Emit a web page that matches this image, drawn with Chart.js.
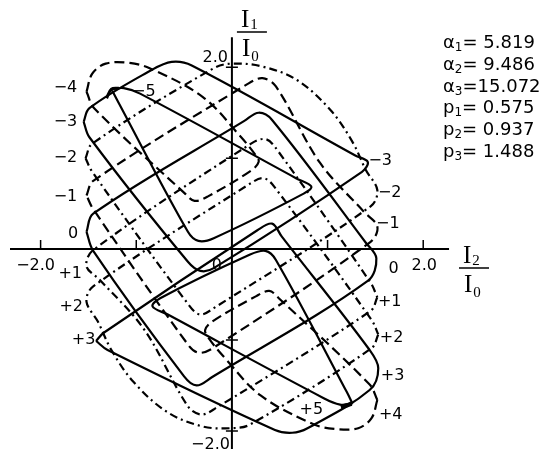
<!DOCTYPE html>
<html>
<head>
<meta charset="utf-8">
<script src="https://cdn.jsdelivr.net/npm/chart.js@4.4.0/dist/chart.umd.min.js"></script>
<style>
  html, body { margin: 0; padding: 0; background: #fff; }
</style>
</head>
<body>
<canvas id="grafico" width="545" height="456"></canvas>
<script>
// closed orbits n = -5 .. +5, points in units of I/I0 (x = I2/I0, y = I1/I0)
const orbitM5 = [[-1.26,1.76],[-1.13,1.77],[-0.96,1.71],[0.67,0.78],[0.83,0.69],[0.75,0.61],[-0.19,0.12],[-0.35,0.09],[-0.46,0.19],[-1.20,1.64],[-1.26,1.76]]
const orbitM4 = [[-1.52,1.73],[-1.46,1.93],[-1.32,2.04],[-1.09,2.05],[-0.86,1.99],[-0.30,1.67],[0.08,1.25],[0.25,1.03],[0.28,0.96],[0.21,0.87],[-0.25,0.58],[-0.39,0.53],[-0.49,0.61],[-1.44,1.55],[-1.52,1.73]]
const orbitM3 = [[-1.55,1.40],[-1.49,1.55],[-0.84,1.97],[-0.63,2.06],[-0.42,2.02],[1.29,1.03],[1.42,0.96],[1.36,0.85],[-0.19,-0.21],[-0.33,-0.24],[-0.46,-0.14],[-1.49,1.23],[-1.55,1.40]]
const orbitM2 = [[-1.53,1.00],[-1.46,1.16],[-0.19,1.99],[0.00,2.04],[0.31,2.01],[0.68,1.86],[1.03,1.53],[1.26,1.18],[1.40,0.87],[1.52,0.65],[1.45,0.47],[-0.19,-0.65],[-0.33,-0.72],[-0.44,-0.63],[-1.46,0.85],[-1.53,1.00]]
const orbitM1 = [[-1.52,0.59],[-1.45,0.75],[0.17,1.82],[0.32,1.88],[0.46,1.79],[0.92,0.95],[1.38,0.41],[1.52,0.25],[1.45,0.08],[-0.20,-1.09],[-0.35,-1.14],[-0.46,-1.05],[-1.45,0.44],[-1.52,0.59]]
const orbit0 = [[-1.52,0.19],[-1.45,0.39],[0.13,1.41],[0.28,1.50],[0.42,1.42],[1.40,0.07],[1.51,-0.10],[1.42,-0.35],[-0.21,-1.41],[-0.37,-1.50],[-0.50,-1.40],[-1.45,-0.02],[-1.52,0.19]]
const orbitP1 = [[1.52,-0.53],[1.45,-0.68],[-0.17,-1.75],[-0.32,-1.82],[-0.46,-1.73],[-0.92,-0.88],[-1.38,-0.34],[-1.52,-0.19],[-1.45,-0.01],[0.20,1.16],[0.35,1.21],[0.46,1.11],[1.45,-0.37],[1.52,-0.53]]
const orbitP2 = [[1.53,-0.94],[1.46,-1.09],[0.19,-1.93],[0.00,-1.97],[-0.31,-1.95],[-0.68,-1.79],[-1.03,-1.46],[-1.26,-1.11],[-1.40,-0.80],[-1.52,-0.58],[-1.45,-0.41],[0.19,0.72],[0.33,0.78],[0.44,0.69],[1.46,-0.78],[1.53,-0.94]]
const orbitP3 = [[-1.42,-1.01],[-1.34,-0.92],[0.27,0.21],[0.42,0.28],[0.52,0.14],[1.44,-1.11],[1.53,-1.31],[1.44,-1.55],[0.79,-1.97],[0.63,-2.02],[0.45,-1.99],[-1.30,-1.11],[-1.42,-1.01]]
const orbitP4 = [[1.52,-1.66],[1.46,-1.86],[1.32,-1.97],[1.09,-1.98],[0.86,-1.93],[0.30,-1.61],[-0.08,-1.19],[-0.25,-0.97],[-0.28,-0.89],[-0.21,-0.80],[0.25,-0.52],[0.39,-0.46],[0.49,-0.54],[1.44,-1.49],[1.52,-1.66]]
const orbitP5 = [[1.26,-1.70],[1.13,-1.71],[0.96,-1.64],[-0.67,-0.72],[-0.83,-0.63],[-0.75,-0.54],[0.19,-0.06],[0.35,-0.02],[0.46,-0.12],[1.20,-1.57],[1.26,-1.70]]
// small marks at the two end orbits
const puntoM5 = [[-1.31,1.66],[-1.26,1.76],[-1.18,1.77]]
const puntoP5 = [[1.14,-1.74],[1.20,-1.72],[1.25,-1.70]]

const ticksX = [-2, -1, 1, 2]
const ticksY = [-2, -1, 1, 2]
const etiquetasIzq = ['−4','−3','−2','−1','0','+1','+2','+3','−5']
const etiquetasDer = ['−3','−2','−1','0','+1','+2','+3','+4','+5']
const parametros = [['α','1','= 5.819'],['α','2','= 9.486'],['α','3','=15.072'],['p','1','= 0.575'],['p','2','= 0.937'],['p','3','= 1.488']]

// where the orbit numbers sit (I2/I0, I1/I0)
const sitioIzq = [[-1.74,1.77],[-1.74,1.40],[-1.74,1.00],[-1.74,0.58],[-1.66,0.17],[-1.69,-0.27],[-1.68,-0.63],[-1.55,-1.00],[-0.92,1.73]]
const sitioDer = [[1.55,0.97],[1.65,0.62],[1.63,0.28],[1.69,-0.22],[1.65,-0.58],[1.67,-0.98],[1.68,-1.39],[1.66,-1.82],[0.83,-1.77]]

const continua = []
const rayas = [10, 5]
const rayaPunto = [8, 4, 2, 4]

function serie(puntos, estilo, ancho) {
  return {
    data: puntos.map(p => ({x: p[0], y: p[1]})),
    showLine: true,
    borderColor: '#000',
    borderWidth: ancho || 2.2,
    borderDash: estilo,
    pointRadius: 0,
    tension: 0.35,
    fill: false
  }
}

const ejes = {
  id: 'ejes',
  afterDatasetsDraw(chart) {
    const ctx = chart.ctx
    const sx = chart.scales.x, sy = chart.scales.y
    const x0 = sx.getPixelForValue(0), y0 = sy.getPixelForValue(0)
    ctx.save()
    ctx.strokeStyle = '#000'
    ctx.fillStyle = '#000'
    ctx.lineWidth = 2
    ctx.setLineDash([])
    ctx.beginPath()
    ctx.moveTo(sx.getPixelForValue(-2.32), y0)
    ctx.lineTo(sx.getPixelForValue(2.27), y0)
    ctx.moveTo(x0, sy.getPixelForValue(2.33))
    ctx.lineTo(x0, sy.getPixelForValue(-2.2))
    ctx.stroke()
    ctx.lineWidth = 1.5
    ctx.beginPath()
    ticksX.forEach(v => {
      const px = sx.getPixelForValue(v)
      ctx.moveTo(px, y0 - 9); ctx.lineTo(px, y0 + 1)
    })
    ticksY.forEach(v => {
      const py = sy.getPixelForValue(v)
      ctx.moveTo(x0 - 6, py); ctx.lineTo(x0 + 6, py)
    })
    ctx.stroke()

    ctx.font = '16px "DejaVu Sans"'
    ctx.textBaseline = 'alphabetic'
    ctx.textAlign = 'center'
    ctx.fillText('−2.0', sx.getPixelForValue(-2) - 5, y0 + 21)
    ctx.fillText('2.0', sx.getPixelForValue(2) + 1, y0 + 21)
    ctx.fillText('0', x0 - 15, y0 + 21)
    ctx.textAlign = 'right'
    ctx.fillText('2.0', x0 - 4, sy.getPixelForValue(2) - 5)
    ctx.fillText('−2.0', x0 - 2, sy.getPixelForValue(-2) + 18)

    // orbit numbers
    ctx.textAlign = 'center'
    ctx.textBaseline = 'middle'
    etiquetasIzq.forEach((t, k) => {
      ctx.fillText(t, sx.getPixelForValue(sitioIzq[k][0]), sy.getPixelForValue(sitioIzq[k][1]))
    })
    etiquetasDer.forEach((t, k) => {
      ctx.fillText(t, sx.getPixelForValue(sitioDer[k][0]), sy.getPixelForValue(sitioDer[k][1]))
    })

    // axis titles as fractions
    ctx.textBaseline = 'alphabetic'
    ctx.textAlign = 'left'
    fraccion(ctx, '1', x0 + 5, 32)
    fraccion(ctx, '2', 459, 268)

    // parameter list
    parametros.forEach((p, k) => {
      const base = [48, 70, 92, 113, 135, 157][k]
      let px = 443
      ctx.font = '18px "DejaVu Sans"'
      ctx.fillText(p[0], px, base)
      px += ctx.measureText(p[0]).width
      ctx.font = '12px "DejaVu Sans"'
      ctx.fillText(p[1], px, base + 3)
      px += ctx.measureText(p[1]).width
      ctx.font = '18px "DejaVu Sans"'
      ctx.fillText(p[2], px, base)
    })
    ctx.restore()
  }
}

function fraccion(ctx, sub, left, barY) {
  ctx.font = '25px "Liberation Serif"'
  ctx.fillText('I', left + 4, barY - 5)
  let w = ctx.measureText('I').width
  ctx.font = '15px "Liberation Serif"'
  ctx.fillText(sub, left + 4 + w + 1, barY - 3)
  ctx.lineWidth = 1.5
  ctx.beginPath()
  ctx.moveTo(left, barY); ctx.lineTo(left + 30, barY)
  ctx.stroke()
  ctx.font = '25px "Liberation Serif"'
  ctx.fillText('I', left + 5, barY + 24)
  ctx.font = '15px "Liberation Serif"'
  ctx.fillText('0', left + 5 + w + 1, barY + 29)
}

new Chart(document.getElementById('grafico'), {
  type: 'scatter',
  data: {
    datasets: [
      serie(orbitM5, continua),
      serie(orbitM4, rayas),
      serie(orbitM3, continua),
      serie(orbitM2, rayaPunto),
      serie(orbitM1, rayas),
      serie(orbit0, continua),
      serie(orbitP1, rayaPunto),
      serie(orbitP2, rayaPunto),
      serie(orbitP3, continua),
      serie(orbitP4, rayas),
      serie(orbitP5, continua),
      serie(puntoM5, continua, 3),
      serie(puntoP5, continua, 4.5)
    ]
  },
  options: {
    responsive: false,
    devicePixelRatio: 1,
    animation: false,
    layout: { padding: { left: 10, right: 95, top: 40, bottom: 16 } },
    plugins: { legend: { display: false }, tooltip: { enabled: false } },
    scales: {
      x: { type: 'linear', min: -2.32, max: 2.28, display: false },
      y: { type: 'linear', min: -2.10, max: 2.30, display: false }
    }
  },
  plugins: [ejes]
})
</script>
</body>
</html>
